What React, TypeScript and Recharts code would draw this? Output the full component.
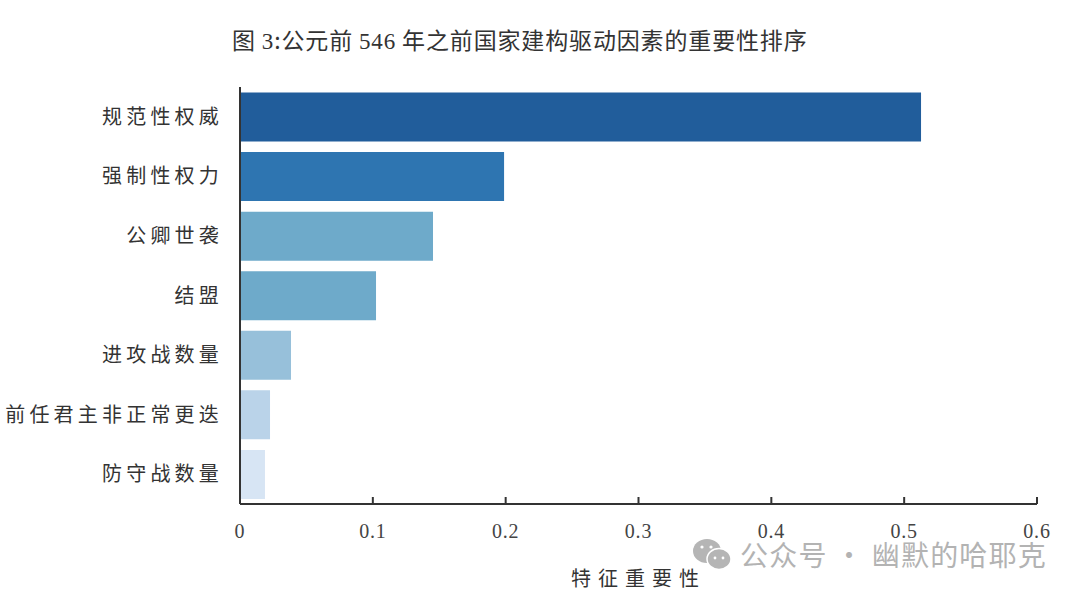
import React from "react";
import { BarChart, Bar, XAxis, YAxis, Cell, Label } from "recharts";

const factors = ["规范性权威", "强制性权力", "公卿世袭", "结盟", "进攻战数量", "前任君主非正常更迭", "防守战数量"];
const importance = [0.5127, 0.1988, 0.1453, 0.1024, 0.0384, 0.0226, 0.0188];
const barColors = ["#215d9b", "#2e75b1", "#6eaaca", "#6eaaca", "#97c0da", "#bad3e9", "#d7e5f4"];
const xTicks = [0, 0.1, 0.2, 0.3, 0.4, 0.5, 0.6];

const rows = factors.map((name, i) => ({ name, value: importance[i] }));

const cjk = '"Noto Sans CJK SC", sans-serif';
const serif = '"Liberation Serif", serif';

export default function App() {
  return (
    <div style={{ position: "absolute", left: 0, top: 0, width: 1080, height: 599, background: "#fff", overflow: "hidden" }}>
      <BarChart
        width={1080}
        height={599}
        data={rows}
        layout="vertical"
        barCategoryGap={5.5}
        margin={{ top: 87, right: 43, bottom: 0, left: 0 }}
      >
        <XAxis
          type="number"
          domain={[0, 0.6]}
          ticks={xTicks}
          height={95}
          axisLine={{ stroke: "#333", strokeWidth: 2 }}
          tickLine={{ stroke: "#333", strokeWidth: 2 }}
          tickSize={-7}
          tickMargin={27}
          tick={{ fill: "#444", fontFamily: serif, fontSize: 20, letterSpacing: 0.8 }}
          tickFormatter={(v: number) => String(v)}
        >
          <Label value="特征重要性" position="insideTop" offset={68} fill="#333" fontFamily={cjk} fontSize={20} letterSpacing={7} />
        </XAxis>
        <YAxis
          type="category"
          dataKey="name"
          width={240}
          interval={0}
          axisLine={{ stroke: "#333", strokeWidth: 2 }}
          tickLine={false}
          tickMargin={17}
          tickSize={0}
          tick={{ fill: "#333", fontFamily: cjk, fontSize: 20, letterSpacing: 4.2 }}
        />
        <Bar dataKey="value" isAnimationActive={false}>
          {rows.map((r, i) => (
            <Cell key={r.name} fill={barColors[i]} />
          ))}
        </Bar>
      </BarChart>

      <div style={{ position: "absolute", left: 232, top: 24, color: "#333", fontFamily: cjk, fontSize: 23, lineHeight: "30px", whiteSpace: "nowrap", letterSpacing: 0.85 }}>
        图 <span style={{ fontFamily: serif }}>3</span>:公元前 <span style={{ fontFamily: serif }}>546</span> 年之前国家建构驱动因素的重要性排序
      </div>

      <svg style={{ position: "absolute", left: 692, top: 537 }} width={42} height={36}>
        <ellipse cx={15} cy={14} rx={14} ry={12} fill="#b5b5b5" />
        <ellipse cx={27} cy={22} rx={12} ry={10.5} fill="#b5b5b5" stroke="#fff" strokeWidth={1.5} />
        <circle cx={10} cy={10} r={1.6} fill="#fff" />
        <circle cx={19} cy={10} r={1.6} fill="#fff" />
        <circle cx={23} cy={21} r={1.4} fill="#fff" />
        <circle cx={31} cy={21} r={1.4} fill="#fff" />
      </svg>
      <div style={{ position: "absolute", left: 740, top: 544, color: "#b3b3b3", fontFamily: cjk, fontSize: 28, lineHeight: "20px", whiteSpace: "nowrap", letterSpacing: 1.2 }}>
        公众号 · 幽默的哈耶克
      </div>
    </div>
  );
}
